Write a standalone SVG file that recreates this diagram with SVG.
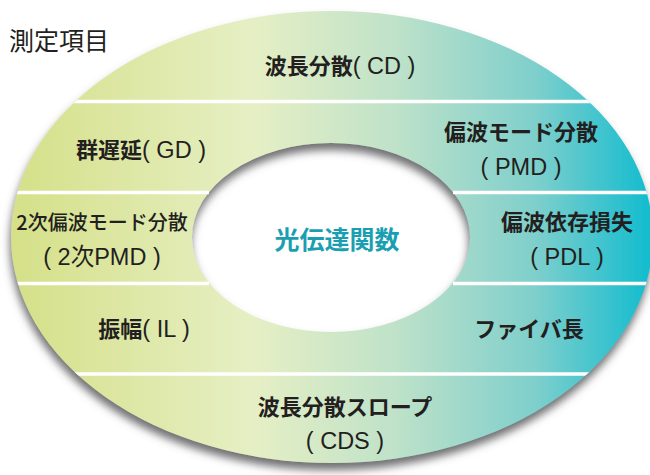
<svg xmlns="http://www.w3.org/2000/svg" width="650" height="475" viewBox="0 0 650 475">
<defs>
<linearGradient id="ringGrad" gradientUnits="userSpaceOnUse" x1="10" y1="0" x2="650" y2="0">
<stop offset="0" stop-color="#d5e088"/>
<stop offset="0.38" stop-color="#e6efc4"/>
<stop offset="0.6" stop-color="#bfe2c9"/>
<stop offset="0.82" stop-color="#7fcfcc"/>
<stop offset="1" stop-color="#12bccf"/>
</linearGradient>
<filter id="shadow" x="-10%" y="-10%" width="120%" height="125%">
<feDropShadow dx="-1" dy="7" stdDeviation="4" flood-color="#606164" flood-opacity="0.9"/>
</filter>
<clipPath id="outerClip">
<ellipse cx="332" cy="237" rx="321" ry="226"/>
</clipPath>
<style>
.jp{font-family:"Noto Sans CJK JP","Liberation Sans",sans-serif;font-weight:bold;font-size:22px;fill:#231f20;text-anchor:middle}
.lat{font-family:"Liberation Sans","Noto Sans CJK JP",sans-serif;font-weight:normal;font-size:23.5px}
.div{stroke:#ffffff;stroke-width:3.5}
</style>
</defs>
<rect width="650" height="475" fill="#ffffff"/>
<text x="9" y="50" font-family="Noto Sans CJK JP, sans-serif" font-size="25" fill="#231f20">測定項目</text>
<g id="ring">
<path d="M 11 237 A 321 226 0 1 0 653 237 A 321 226 0 1 0 11 237 Z M 192 237.5 A 139 94.5 0 1 1 470 237.5 A 139 94.5 0 1 1 192 237.5 Z" fill="url(#ringGrad)" fill-rule="evenodd" filter="url(#shadow)"/>
<g clip-path="url(#outerClip)">
<line class="div" x1="0" y1="101.5" x2="650" y2="101.5"/>
<line class="div" x1="0" y1="192.5" x2="209" y2="192.5"/>
<line class="div" x1="453" y1="192.5" x2="650" y2="192.5"/>
<line class="div" x1="0" y1="283.5" x2="209" y2="283.5"/>
<line class="div" x1="453" y1="283.5" x2="650" y2="283.5"/>
<line class="div" x1="0" y1="374" x2="650" y2="374"/>
</g>
</g>
<g id="cd"><text class="jp" x="340" y="74">波長分散<tspan class="lat">( CD )</tspan></text></g>
<g id="gd"><text class="jp" x="141" y="158">群遅延<tspan class="lat">( GD )</tspan></text></g>
<g id="pmd"><text class="jp" x="521" y="140">偏波モード分散</text><text class="jp lat" x="521" y="175">( PMD )</text></g>
<g id="pmd2"><text class="jp" x="102" y="230" style="font-weight:500;font-size:20px">2次偏波モード分散</text><text class="jp lat" x="102" y="265">( 2次PMD )</text></g>
<g id="center"><text class="jp" x="337" y="249" style="font-size:25px;fill:#1a9fb2">光伝達関数</text></g>
<g id="pdl"><text class="jp" x="567" y="230">偏波依存損失</text><text class="jp lat" x="567" y="265">( PDL )</text></g>
<g id="il"><text class="jp" x="144" y="337">振幅<tspan class="lat">( IL )</tspan></text></g>
<g id="length"><text class="jp" x="529" y="337">ファイバ長</text></g>
<g id="cds"><text class="jp" x="345" y="415">波長分散スロープ</text><text class="jp lat" x="345" y="449">( CDS )</text></g>
</svg>
